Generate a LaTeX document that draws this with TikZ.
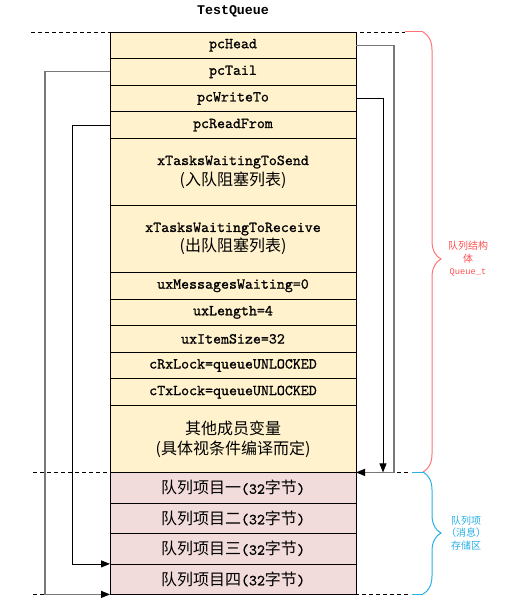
\documentclass[tikz,border=0pt]{standalone}
\usepackage{fontspec}
\setmainfont{Liberation Mono}
\newfontfamily\rowfont{lmmono10-regular.otf}[BoldFont=lmmono10-regular.otf, BoldFeatures={FakeBold=1}]
\newfontfamily\cjk{Noto Sans CJK SC}
\usetikzlibrary{arrows.meta, positioning, decorations.pathreplacing}
\definecolor{fieldcolor}{RGB}{255, 242, 204}
\definecolor{itemcolor}{RGB}{242, 220, 219}
\definecolor{ptrgray}{RGB}{120, 120, 120}
\definecolor{structcolor}{RGB}{255, 80, 80}
\definecolor{storecolor}{RGB}{40, 175, 230}
\newcommand{\zhtxt}[1]{{\cjk\mdseries\fontsize{16}{20}\selectfont #1}}
\tikzset{
    % Base styles
    basefield/.style={
        draw, line width=0.8pt, align=center,
        font=\rowfont\bfseries\fontsize{15.2}{20}\selectfont,
        minimum width=246pt, inner sep=0pt, outer sep=0pt
    },
    % Specific row types
    fieldnode/.style={basefield, fill=fieldcolor, minimum height=26.6pt},
    tallfield/.style={basefield, fill=fieldcolor, minimum height=67pt},
    itemnode/.style={basefield, fill=itemcolor, minimum height=30.5pt},
    % Arrows
    ptrarrow/.style={-{Triangle[length=9pt, width=7pt]}, line width=0.8pt},
    grayarrow/.style={-{Triangle[length=9pt, width=7pt, color=black]}, line width=1.2pt, draw=ptrgray},
    % Guide lines
    guideline/.style={dashed, dash pattern=on 4pt off 3pt, line width=0.6pt},
    % Braces
    bracepath/.style={decorate, decoration={brace, amplitude=18pt}, line width=1pt},
    bracelabel/.style={align=center, font=\fontsize{10}{12.5}\selectfont},
}
\begin{document}
\begin{tikzpicture}[x=1pt, y=-1pt, node distance=0pt]
\useasboundingbox (0,0) rectangle (504,609);

% Title
\node[font=\fontsize{13.3}{16}\selectfont\bfseries] (title) at (233,11) {TestQueue};

% Queue_t members
\node (head) [fieldnode, anchor=north] at (233,32) {pcHead};
\node (tail) [fieldnode, below=of head] {pcTail};
\node (writeto) [fieldnode, below=of tail] {pcWriteTo};
\node (readfrom) [fieldnode, below=of writeto] {pcReadFrom};
\node (tosend) [tallfield, below=of readfrom] {xTasksWaitingToSend\\\zhtxt{(入队阻塞列表)}};
\node (torecv) [tallfield, below=of tosend] {xTasksWaitingToReceive\\\zhtxt{(出队阻塞列表)}};
\node (waiting) [fieldnode, below=of torecv] {uxMessagesWaiting=0};
\node (length) [fieldnode, below=of waiting] {uxLength=4};
\node (itemsize) [fieldnode, below=of length] {uxItemSize=32};
\node (rxlock) [fieldnode, below=of itemsize] {cRxLock=queueUNLOCKED};
\node (txlock) [fieldnode, below=of rxlock] {cTxLock=queueUNLOCKED};
\node (other) [tallfield, below=of txlock] {\zhtxt{其他成员变量}\\\zhtxt{(具体视条件编译而定)}};

% Storage area
\node (item1) [itemnode, below=of other] {\zhtxt{队列项目一}(32\zhtxt{字节})};
\node (item2) [itemnode, below=of item1] {\zhtxt{队列项目二}(32\zhtxt{字节})};
\node (item3) [itemnode, below=of item2] {\zhtxt{队列项目三}(32\zhtxt{字节})};
\node (item4) [itemnode, below=of item3] {\zhtxt{队列项目四}(32\zhtxt{字节})};

% Dashed boundaries
\draw[guideline] (31,32) -- (405,32);
\draw[guideline] (33,472) -- (410,472);
\draw[guideline] (33,594) -- (410,594);

% Pointer connectors
\draw[grayarrow] (head.east) -- ++(38,0) |- (other.south east);
\draw[ptrarrow] (writeto.east) -| ([xshift=27pt]other.south east);
\draw[grayarrow] (tail.west) -- ++(-65,0) |- (item4.south west);
\draw[ptrarrow] (readfrom.west) -- ++(-38,0) |- (item3.south west);

% Braces
\draw[structcolor!80, line width=1pt] (405,32) -- (423,32);
\draw[structcolor!80, bracepath, decoration={aspect=0.516}] (423,32) -- (423,472);
\draw[storecolor, line width=1pt] (412,472) -- (423,472);
\draw[storecolor, line width=1pt] (412,594) -- (423,594);
\draw[storecolor, bracepath] (423,472) -- (423,594);

\node[bracelabel, text=structcolor] (structlabel) at (468,259) {{\cjk 队列结构}\\{\cjk 体}\\{\fontsize{8.7}{12.5}\selectfont Queue\_t}};
\node[bracelabel, text=storecolor] (storelabel) at (466,533) {{\cjk 队列项}\\{\cjk （消息）}\\{\cjk 存储区}};

\end{tikzpicture}
\end{document}
